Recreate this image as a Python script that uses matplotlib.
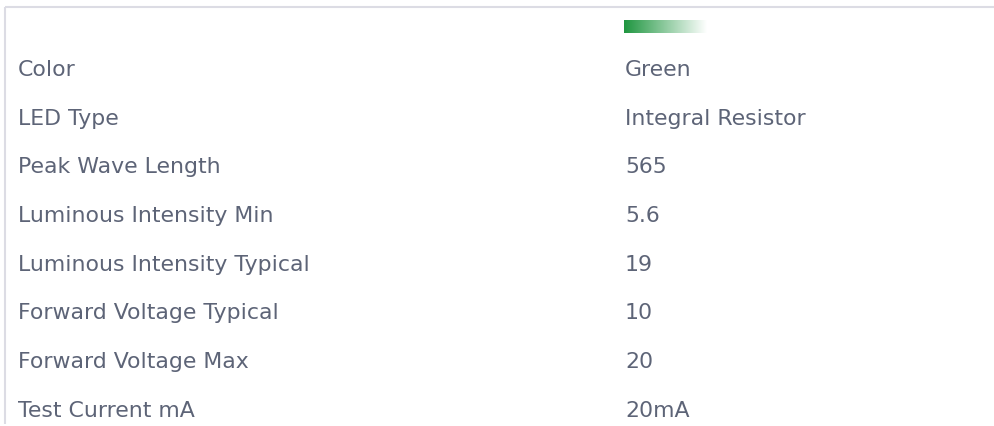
import numpy as np
import matplotlib.pyplot as plt
from matplotlib.colors import LinearSegmentedColormap

# table contents
labels = ["Color", "LED Type", "Peak Wave Length", "Luminous Intensity Min",
          "Luminous Intensity Typical", "Forward Voltage Typical",
          "Forward Voltage Max", "Test Current mA"]
values = ["Green", "Integral Resistor", "565", "5.6", "19", "10", "20", "20mA"]
swatch_color = "#1f9640"

W, H = 995, 427
fig = plt.figure(figsize=(W / 100, H / 100), dpi=100)
ax = fig.add_axes([0, 0, 1, 1])
ax.set_xlim(0, W)
ax.set_ylim(H, 0)
ax.axis("off")

border = "#dcdce4"
ax.plot([4.5, W], [7.5, 7.5], color=border, lw=1.5, solid_capstyle="butt")
ax.plot([4.5, 4.5], [7.5, 425], color=border, lw=1.5, solid_capstyle="butt")

# gradient swatch
cmap = LinearSegmentedColormap.from_list("sw", [swatch_color, "#ffffff"])
grad = np.linspace(0, 1, 256).reshape(1, -1)
ax.imshow(grad, cmap=cmap, extent=[624, 707, 34, 21], aspect="auto",
          interpolation="bilinear")

text_color = "#5d6477"
y0, step = 76, 48.7
for i, (lab, val) in enumerate(zip(labels, values)):
    y = y0 + i * step
    ax.text(18, y, lab, fontsize=15.8, color=text_color, va="baseline", ha="left")
    ax.text(625, y, val, fontsize=15.8, color=text_color, va="baseline", ha="left")

ax.set_xlim(0, W)
ax.set_ylim(H, 0)
fig.savefig("out.png", dpi=100)
